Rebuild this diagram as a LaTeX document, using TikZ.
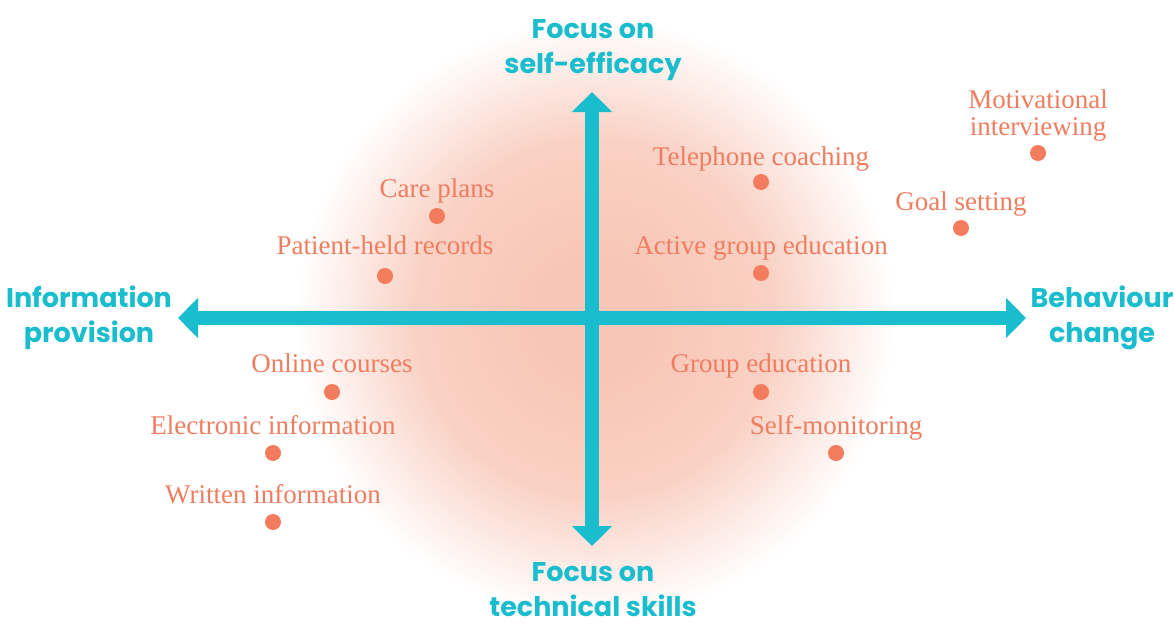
\documentclass[tikz,border=0pt]{standalone}
\usepackage{fontspec}
\setmainfont{Liberation Serif}
\newfontfamily\axisfont{Poppins}[UprightFont=* Bold]
\usetikzlibrary{arrows.meta}
\definecolor{teal}{RGB}{26,189,206}
\definecolor{lbltxt}{RGB}{240,125,95}
\definecolor{dotc}{RGB}{243,123,94}
\definecolor{pk}{RGB}{248,198,182}
% square of half-side 700 maps to 25bp; glow radius 300 -> 10.7bp
\pgfdeclareradialshading{glow}{\pgfpoint{0bp}{0bp}}{color(0bp)=(pk); color(2.2bp)=(pk); color(6.4bp)=(pk!80!white); color(10.7bp)=(white); color(50bp)=(white)}
\tikzset{
  lbl/.style={font=\fontsize{27}{27}\selectfont, text=lbltxt, inner sep=0pt, anchor=base, align=center},
  dot/.style={circle, fill=dotc, minimum size=16pt, inner sep=0pt},
  axislbl/.style={font=\axisfont\fontsize{27}{34.5}\selectfont, text=teal, inner sep=0pt, anchor=base, align=center},
  axisarrow/.style={draw=teal, line width=14pt, -{Triangle[width=39pt,length=20pt]}}
}
\begin{document}
\begin{tikzpicture}[x=1pt,y=-1pt]
\fill[white] (0,0) rectangle (1174,624);
\useasboundingbox (0,0) rectangle (1174,624);
\begin{scope}
\clip (0,0) rectangle (1174,624);
\fill[shading=glow] (-105,-382) rectangle (1295,1018);
\end{scope}
% axes
\coordinate (o) at (592,318);
\coordinate (top) at (592,92);
\coordinate (bot) at (592,546);
\coordinate (lft) at (178,318);
\coordinate (rgt) at (1026,318);
\draw[axisarrow] (o) -- (top);
\draw[axisarrow] (o) -- (bot);
\draw[axisarrow] (o) -- (lft);
\draw[axisarrow] (o) -- (rgt);
% axis labels (base = last line)
\node[axislbl] (tl) at (593,73) {Focus on\\self-efficacy};
\node[axislbl] (bl) at (593,616) {Focus on\\technical skills};
\node[axislbl] (ll) at (89,342) {Information\\provision};
\node[axislbl] (rl) at (1102,342) {Behaviour\\change};
% items
\node[lbl] (cp) at (437,197) {Care plans};
\node[dot] (cpd) at (437,216) {};
\node[lbl] (ph) at (385,254) {Patient-held records};
\node[dot] (phd) at (385,276) {};
\node[lbl] (oc) at (332,372) {Online courses};
\node[dot] (ocd) at (332,392) {};
\node[lbl] (ei) at (273,434) {Electronic information};
\node[dot] (eid) at (273,453) {};
\node[lbl] (wi) at (273,503) {Written information};
\node[dot] (wid) at (273,522) {};
\node[lbl] (tc) at (761,165) {Telephone coaching};
\node[dot] (tcd) at (761,182) {};
\node[lbl] (ag) at (761,254) {Active group education};
\node[dot] (agd) at (761,273) {};
\node[lbl] (mi) at (1038,135) {Motivational\\interviewing};
\node[dot] (mid) at (1038,153) {};
\node[lbl] (gs) at (961,210) {Goal setting};
\node[dot] (gsd) at (961,228) {};
\node[lbl] (ge) at (761,372) {Group education};
\node[dot] (ged) at (761,392) {};
\node[lbl] (sm) at (836,434) {Self-monitoring};
\node[dot] (smd) at (836,453) {};
\end{tikzpicture}
\end{document}
